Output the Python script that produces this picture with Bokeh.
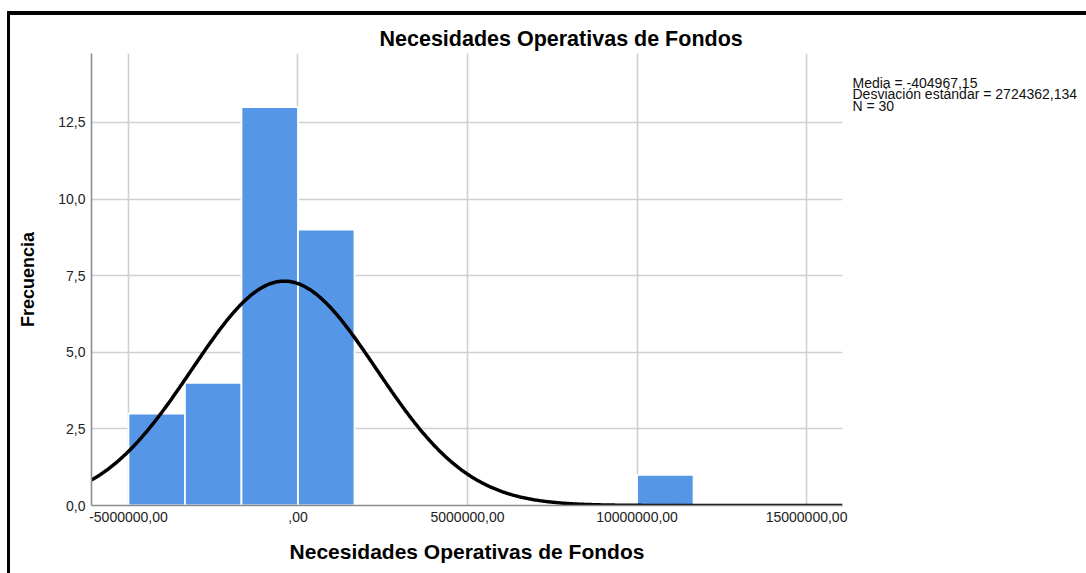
import numpy as np
from bokeh.plotting import figure
from bokeh.layouts import row
from bokeh.models import FixedTicker, CustomJSTickFormatter, Range1d
from bokeh.core.properties import value
from bokeh.embed import file_html
from bokeh.resources import INLINE

# ---- data ----
bin_lefts = [-5000000.0, -3333333.0, -1666667.0, 0.0, 10000000.0]
bin_width = 1666667.0
counts = [3, 4, 13, 9, 1]
mean_val = -404967.15
sd_val = 2724362.134
n_val = 30
x_ticks = [-5000000, 0, 5000000, 10000000, 15000000]
y_ticks = [0, 2.5, 5.0, 7.5, 10.0, 12.5]
title_text = "Necesidades Operativas de Fondos"
x_label = "Necesidades Operativas de Fondos"
y_label = "Frecuencia"
stats_lines = ["Media = -404967,15", "Desviación estándar = 2724362,134", "N = 30"]

x_start, x_end = -6090000, 16060000
y_start, y_end = 0, 14.75

FONT = "Liberation Sans"
CANVAS_H = 558
FRAME_H = 452

p = figure(width=842, height=CANVAS_H, output_backend="svg", toolbar_location=None,
           x_range=Range1d(x_start, x_end), y_range=Range1d(y_start, y_end),
           min_border_left=81, min_border_right=10, min_border_top=38, min_border_bottom=68,
           background_fill_color="white", border_fill_color="white")
p.outline_line_color = None

# title
p.title.text = title_text
p.title.text_font = FONT
p.title.text_font_size = "21.5px"
p.title.text_font_style = "bold"
p.title.text_color = "black"
p.title.align = "left"
p.title.offset = 288
p.title.standoff = 5

# grids
p.xgrid.ticker = FixedTicker(ticks=x_ticks)
p.ygrid.ticker = FixedTicker(ticks=y_ticks)
for g in (p.xgrid, p.ygrid):
    g.grid_line_color = "#d0d0d0"
    g.grid_line_width = 1.6

# axes
p.xaxis.ticker = FixedTicker(ticks=x_ticks)
p.yaxis.ticker = FixedTicker(ticks=y_ticks)
p.xaxis.formatter = CustomJSTickFormatter(code="""
if (Math.abs(tick) < 1e-9) { return ",00"; }
return tick.toFixed(2).replace(".", ",");
""")
p.yaxis.formatter = CustomJSTickFormatter(code="""
return tick.toFixed(1).replace(".", ",");
""")
for ax in (p.xaxis, p.yaxis):
    ax.axis_line_color = "#8c8c8c"
    ax.axis_line_width = 1.6
    ax.major_tick_line_color = None
    ax.minor_tick_line_color = None
    ax.major_tick_out = 0
    ax.major_tick_in = 0
    ax.major_label_text_font = FONT
    ax.major_label_text_font_size = "14px"
    ax.major_label_text_color = "#222222"
    ax.axis_label_text_font = FONT
    ax.axis_label_text_font_style = "bold"
    ax.axis_label_text_color = "black"
p.xaxis.axis_label = x_label
p.yaxis.axis_label = y_label
p.xaxis.axis_label_text_font_size = "21px"
p.yaxis.axis_label_text_font_size = "18px"
p.xaxis.major_label_standoff = 6
p.yaxis.major_label_standoff = 6
p.xaxis.axis_label_standoff = 15
p.yaxis.axis_label_standoff = 17

# histogram bars
lefts = np.array(bin_lefts)
p.quad(left=lefts, right=lefts + bin_width, bottom=0, top=counts,
       fill_color="#5596e6", line_color="white", line_width=1.8)

# normal curve from stated mean / sd / N
xs = np.linspace(x_start, x_end, 600)
ys = n_val * bin_width / (sd_val * np.sqrt(2 * np.pi)) * np.exp(-0.5 * ((xs - mean_val) / sd_val) ** 2)
p.line(xs, ys, line_color="black", line_width=3.5)

# stats panel to the right; lines stacked with pixel offsets
SIDE_W = 234
p2 = figure(width=SIDE_W, height=CANVAS_H, output_backend="svg", toolbar_location=None,
            x_range=Range1d(0, SIDE_W), y_range=Range1d(FRAME_H, 0),
            min_border=0, background_fill_color="white", border_fill_color="white")
p2.outline_line_color = None
p2.axis.visible = False
p2.grid.visible = False
first_line, line_step = 29, 11.5
n_lines = len(stats_lines)
p2.text(x=[0] * n_lines, y=[first_line] * n_lines,
        y_offset=[line_step * i for i in range(n_lines)],
        text=stats_lines, text_font=value(FONT), text_font_size="14px",
        text_color="#111111", text_baseline="middle", text_align="left")

layout = row(p, p2, spacing=0)
layout.styles = {"border-left": "3px solid black", "border-top": "4px solid black",
                 "margin-left": "7px", "margin-top": "11px"}

open("out.html", "w").write(file_html(layout, INLINE))
